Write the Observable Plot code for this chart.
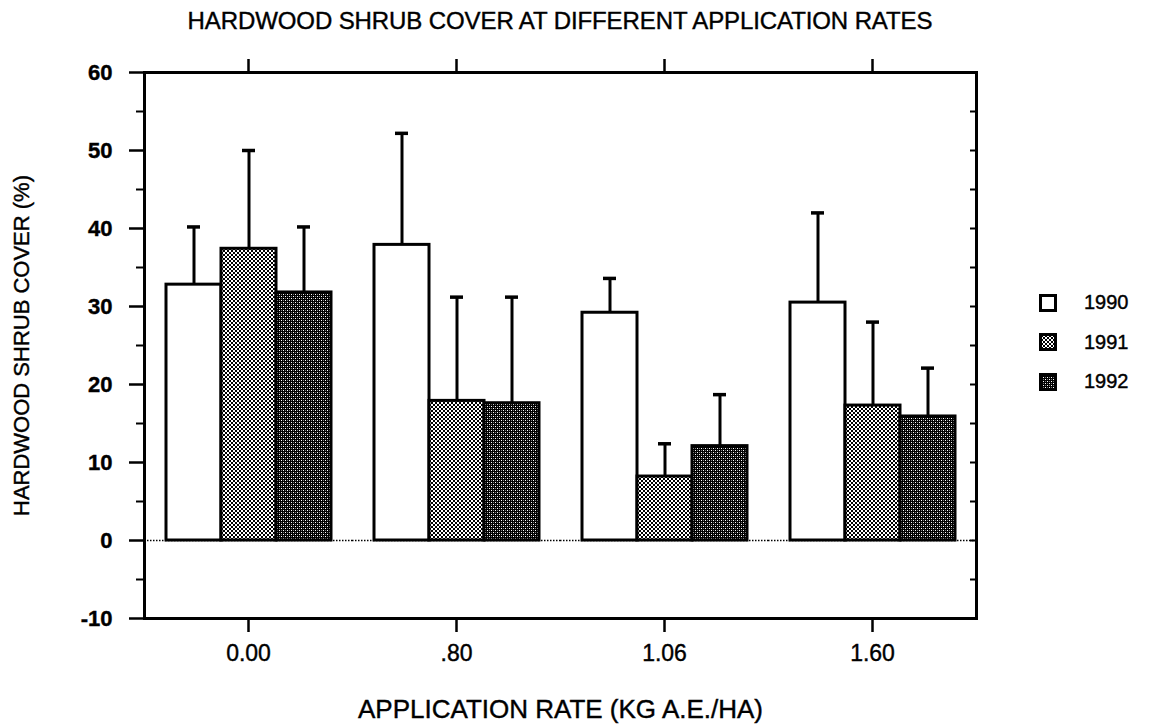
<!DOCTYPE html>
<html><head><meta charset="utf-8">
<script src="https://cdn.jsdelivr.net/npm/d3@7"></script>
<script src="https://cdn.jsdelivr.net/npm/@observablehq/plot@0.6"></script>
<style>
body{margin:0;background:#fff;font-family:"Liberation Sans",Arial,sans-serif;color:#000;}
#title{position:absolute;left:143px;width:834px;top:0;height:40px;line-height:42px;text-align:center;font-size:24px;letter-spacing:-0.1px;white-space:nowrap;-webkit-text-stroke:0.4px #000;}
#chart{position:absolute;left:0;top:40px;}
#chart svg text{stroke:#000;stroke-width:0.4px;}
#legend{position:absolute;left:1039px;top:283px;}
.item{display:flex;align-items:center;height:39.5px;font-size:20px;-webkit-text-stroke:0.4px #000;}
</style></head>
<body>
<svg width="0" height="0" style="position:absolute">
  <defs>
    <pattern id="p1991" width="4" height="4" patternUnits="userSpaceOnUse">
      <rect width="4" height="4" fill="#fff"/>
      <rect x="0" y="0" width="2" height="2" fill="#000"/>
      <rect x="2" y="2" width="2" height="2" fill="#000"/>
    </pattern>
    <pattern id="p1992" width="4" height="4" patternUnits="userSpaceOnUse">
      <rect width="4" height="4" fill="#000"/>
      <rect x="0" y="0" width="1" height="1" fill="#fff"/>
      <rect x="2" y="2" width="1" height="1" fill="#fff"/>
      <rect x="0" y="2" width="1" height="1" fill="#777"/>
      <rect x="2" y="0" width="1" height="1" fill="#777"/>
    </pattern>
  </defs>
</svg>
<div id="title">HARDWOOD SHRUB COVER AT DIFFERENT APPLICATION RATES</div>
<div id="chart"></div>
<div id="legend"></div>
<script>
const rates = ["0.00", ".80", "1.06", "1.60"];
const years = ["1990", "1991", "1992"];
const cover1990 = [32.8, 37.9, 29.2, 30.5];
const cover1991 = [37.4, 17.9, 8.2, 17.3];
const cover1992 = [31.8, 17.6, 12.1, 15.9];
const upper1990 = [40.2, 52.2, 33.6, 42.0];
const upper1991 = [50.0, 31.2, 12.4, 28.0];
const upper1992 = [40.2, 31.2, 18.7, 22.1];
const yMajor = [-10, 0, 10, 20, 30, 40, 50, 60];
const yMinor = [-5, 5, 15, 25, 35, 45, 55];
const yAll = [-10, -5, 0, 5, 10, 15, 20, 25, 30, 35, 40, 45, 50, 55, 60];
const fills = ["#fff", "url(#p1991)", "url(#p1992)"];

const coverBy = [cover1990, cover1991, cover1992];
const upperBy = [upper1990, upper1991, upper1992];
const data = rates.flatMap((rate, i) => years.map((year, j) => ({rate, year, value: coverBy[j][i], upper: upperBy[j][i]})));

const font = '"Liberation Sans", Arial, sans-serif';
const chart = Plot.plot({
  width: 1157,
  height: 687,
  marginTop: 32,
  marginBottom: 109,
  marginLeft: 143,
  marginRight: 180,
  style: {fontFamily: font, fontSize: "21px", background: "#fff", color: "#000"},
  fx: {domain: rates, padding: 0},
  x: {domain: years, paddingInner: 0, paddingOuter: 0.36, axis: null},
  y: {domain: [-10, 60]},
  color: {type: "ordinal", domain: years, range: fills},
  marks: [
    Plot.ruleY([0], {stroke: "#000", strokeWidth: 1.5, strokeDasharray: "1.5 1.5"}),
    Plot.barY(data, {fx: "rate", x: "year", y: "value", fill: "year", stroke: "#000", strokeWidth: 3}),
    Plot.ruleX(data, {fx: "rate", x: "year", y1: "value", y2: "upper", stroke: "#000", strokeWidth: 3}),
    Plot.tickY(data, {fx: "rate", x: "year", y: "upper", stroke: "#000", strokeWidth: 3.5, insetLeft: 21, insetRight: 21}),
    Plot.axisY({anchor: "left", ticks: yMajor, tickSize: 15, tickPadding: 17, strokeWidth: 2.5, fontWeight: "bold", fontSize: 22,
      tickFormat: (d) => String(d), label: null}),
    Plot.axisY({anchor: "left", ticks: yMinor, tickSize: 8, strokeWidth: 2, tickFormat: () => "", fontSize: 22,
      label: "HARDWOOD SHRUB COVER (%)", labelAnchor: "center", labelArrow: "none", labelOffset: 131}),
    Plot.axisY({anchor: "right", ticks: yAll, tickSize: 7, dx: -7, strokeWidth: 2, tickFormat: () => "", label: null}),
    Plot.axisFx({anchor: "top", tickSize: 14, strokeWidth: 2.5, tickFormat: () => "", label: null}),
    Plot.axisFx({anchor: "bottom", tickSize: 14, tickPadding: 12, strokeWidth: 2.5, fontSize: 23, label: null}),
    Plot.axisFx({anchor: "bottom", tickSize: 0, tickFormat: () => "", fontSize: 26,
      label: "APPLICATION RATE (KG A.E./HA)", labelAnchor: "center", labelArrow: "none", labelOffset: 99}),
    Plot.frame({facet: "super", stroke: "#000", strokeWidth: 3})
  ]
});
document.getElementById("chart").append(chart);

const legend = document.getElementById("legend");
years.forEach((y, i) => {
  const item = document.createElement("div");
  item.className = "item";
  const sw = document.createElementNS("http://www.w3.org/2000/svg", "svg");
  sw.setAttribute("width", 18); sw.setAttribute("height", 18);
  sw.style.marginRight = "27px";
  const r = document.createElementNS("http://www.w3.org/2000/svg", "rect");
  r.setAttribute("x", 1.5); r.setAttribute("y", 1.5); r.setAttribute("width", 15); r.setAttribute("height", 15);
  r.setAttribute("fill", fills[i]); r.setAttribute("stroke", "#000"); r.setAttribute("stroke-width", 3);
  sw.append(r);
  const t = document.createElement("span");
  t.textContent = y;
  item.append(sw, t);
  legend.append(item);
});
</script>
</body></html>
